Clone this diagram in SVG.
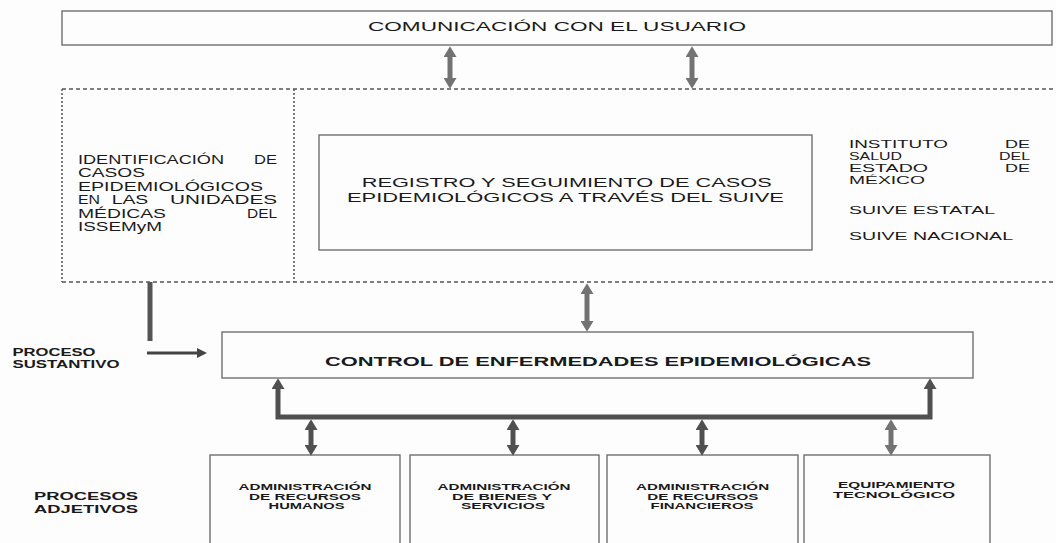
<svg xmlns="http://www.w3.org/2000/svg" width="1056" height="543" viewBox="0 0 1056 543">
<defs>
<style>
text{font-family:"Liberation Sans",Arial,sans-serif;fill:#1a1a1a}
.box{fill:none;stroke:#666;stroke-width:1.3}
.dash{fill:none;stroke:#555;stroke-width:1.3;stroke-dasharray:4 3}
.dot{fill:none;stroke:#555;stroke-width:1.5;stroke-dasharray:2 2}
.reg{font-size:12.5px}
.rt{font-size:11.5px}
.b{font-weight:bold}
.sm{font-size:9px;font-weight:bold}
.lbl{font-size:10.5px;font-weight:bold}
.arr{fill:none;stroke:#737373;stroke-width:5}
.arrd{fill:none;stroke:#505050;stroke-width:5}
</style>
<marker id="hg" viewBox="0 0 10 12" refX="0" refY="6" markerWidth="11" markerHeight="13" markerUnits="userSpaceOnUse" orient="auto-start-reverse"><path d="M0,0 L10,6 L0,12 z" fill="#737373"/></marker>
<marker id="hd" viewBox="0 0 10 12" refX="0" refY="6" markerWidth="11" markerHeight="13" markerUnits="userSpaceOnUse" orient="auto-start-reverse"><path d="M0,0 L10,6 L0,12 z" fill="#505050"/></marker>
<marker id="hs" viewBox="0 0 10 10" refX="0" refY="5" markerWidth="10" markerHeight="10" markerUnits="userSpaceOnUse" orient="auto"><path d="M0,0 L10,5 L0,10 z" fill="#444"/></marker>
</defs>
<rect width="1056" height="543" fill="#fdfdfd"/>

<g id="n-comunicacion">
<rect class="box" x="62" y="11" width="990" height="34"/>
<text x="557" y="31" font-size="13" text-anchor="middle" textLength="378" lengthAdjust="spacingAndGlyphs">COMUNICACIÓN CON EL USUARIO</text>
</g>

<g id="n-region">
<path class="dash" d="M62,89 H1056 M62,282 H1056"/>
<path class="dot" d="M62,89 V282 M294,89 V282"/>
</g>

<g id="n-identificacion" class="reg">
<text y="164"><tspan x="78" textLength="146" lengthAdjust="spacingAndGlyphs">IDENTIFICACIÓN</tspan><tspan x="254" textLength="23" lengthAdjust="spacingAndGlyphs">DE</tspan></text>
<text x="78" y="177.4" textLength="67" lengthAdjust="spacingAndGlyphs">CASOS</text>
<text x="78" y="190.8" textLength="185" lengthAdjust="spacingAndGlyphs">EPIDEMIOLÓGICOS</text>
<text y="204.2"><tspan x="78" textLength="22" lengthAdjust="spacingAndGlyphs">EN</tspan><tspan x="111.7" textLength="36.6" lengthAdjust="spacingAndGlyphs">LAS</tspan><tspan x="170" textLength="107" lengthAdjust="spacingAndGlyphs">UNIDADES</tspan></text>
<text y="217.6"><tspan x="78" textLength="88" lengthAdjust="spacingAndGlyphs">MÉDICAS</tspan><tspan x="247" textLength="30" lengthAdjust="spacingAndGlyphs">DEL</tspan></text>
<text x="78" y="231" textLength="84" lengthAdjust="spacingAndGlyphs">ISSEMyM</text>
</g>

<g id="n-registro">
<rect class="box" x="319" y="135" width="493" height="115"/>
<text class="reg" x="566.7" y="187.3" text-anchor="middle" textLength="410" lengthAdjust="spacingAndGlyphs">REGISTRO Y SEGUIMIENTO DE CASOS</text>
<text class="reg" x="565.4" y="202" text-anchor="middle" textLength="437" lengthAdjust="spacingAndGlyphs">EPIDEMIOLÓGICOS A TRAVÉS DEL SUIVE</text>
</g>

<g id="n-instituto" class="rt">
<text y="147.5"><tspan x="849" textLength="99" lengthAdjust="spacingAndGlyphs">INSTITUTO</tspan><tspan x="1005" textLength="25" lengthAdjust="spacingAndGlyphs">DE</tspan></text>
<text y="159.5"><tspan x="849" textLength="53" lengthAdjust="spacingAndGlyphs">SALUD</tspan><tspan x="999" textLength="31" lengthAdjust="spacingAndGlyphs">DEL</tspan></text>
<text y="171.7"><tspan x="849" textLength="79" lengthAdjust="spacingAndGlyphs">ESTADO</tspan><tspan x="1005" textLength="25" lengthAdjust="spacingAndGlyphs">DE</tspan></text>
<text x="849" y="184" textLength="76" lengthAdjust="spacingAndGlyphs">MÉXICO</text>
<text x="849" y="213.6" textLength="146" lengthAdjust="spacingAndGlyphs">SUIVE ESTATAL</text>
<text x="849" y="239.6" textLength="164" lengthAdjust="spacingAndGlyphs">SUIVE NACIONAL</text>
</g>

<g id="n-proceso-sustantivo" class="lbl">
<text x="12.5" y="356" textLength="83" lengthAdjust="spacingAndGlyphs">PROCESO</text>
<text x="12.5" y="368" textLength="107" lengthAdjust="spacingAndGlyphs">SUSTANTIVO</text>
</g>

<g id="n-control">
<rect class="box" x="222" y="332" width="751" height="46"/>
<text class="b" x="598" y="366" font-size="13.5" text-anchor="middle" textLength="546" lengthAdjust="spacingAndGlyphs">CONTROL DE ENFERMEDADES EPIDEMIOLÓGICAS</text>
</g>

<g id="n-procesos-adjetivos" class="lbl">
<text x="34" y="500" textLength="104" lengthAdjust="spacingAndGlyphs">PROCESOS</text>
<text x="34" y="513" textLength="104" lengthAdjust="spacingAndGlyphs">ADJETIVOS</text>
</g>

<g id="n-admin-rh">
<rect class="box" x="210" y="455" width="190" height="100"/>
<text class="sm" x="305" y="490" text-anchor="middle" textLength="133" lengthAdjust="spacingAndGlyphs">ADMINISTRACIÓN</text>
<text class="sm" x="305" y="499.5" text-anchor="middle" textLength="112" lengthAdjust="spacingAndGlyphs">DE RECURSOS</text>
<text class="sm" x="306.6" y="509" text-anchor="middle" textLength="76" lengthAdjust="spacingAndGlyphs">HUMANOS</text>
</g>

<g id="n-admin-bs">
<rect class="box" x="410" y="455" width="189" height="100"/>
<text class="sm" x="504" y="490" text-anchor="middle" textLength="133" lengthAdjust="spacingAndGlyphs">ADMINISTRACIÓN</text>
<text class="sm" x="502" y="499.5" text-anchor="middle" textLength="100" lengthAdjust="spacingAndGlyphs">DE BIENES Y</text>
<text class="sm" x="503" y="509" text-anchor="middle" textLength="84" lengthAdjust="spacingAndGlyphs">SERVICIOS</text>
</g>

<g id="n-admin-rf">
<rect class="box" x="607" y="455" width="191" height="100"/>
<text class="sm" x="702.6" y="490" text-anchor="middle" textLength="133" lengthAdjust="spacingAndGlyphs">ADMINISTRACIÓN</text>
<text class="sm" x="702.8" y="499.5" text-anchor="middle" textLength="111" lengthAdjust="spacingAndGlyphs">DE RECURSOS</text>
<text class="sm" x="702" y="509" text-anchor="middle" textLength="103" lengthAdjust="spacingAndGlyphs">FINANCIEROS</text>
</g>

<g id="n-equipamiento">
<rect class="box" x="804" y="455" width="186" height="100"/>
<text class="sm" x="896.5" y="488" text-anchor="middle" textLength="117" lengthAdjust="spacingAndGlyphs">EQUIPAMIENTO</text>
<text class="sm" x="894" y="498" text-anchor="middle" textLength="122" lengthAdjust="spacingAndGlyphs">TECNOLÓGICO</text>
</g>

<g id="connectors">
<line class="arr" x1="450" y1="57" x2="450" y2="78" marker-start="url(#hg)" marker-end="url(#hg)"/>
<line class="arr" x1="692" y1="57" x2="692" y2="78" marker-start="url(#hg)" marker-end="url(#hg)"/>
<line class="arr" x1="587" y1="294" x2="587" y2="321" marker-start="url(#hg)" marker-end="url(#hg)"/>
<line x1="150" y1="282" x2="150" y2="341" stroke="#555" stroke-width="5"/>
<line x1="147" y1="353" x2="197" y2="353" stroke="#444" stroke-width="3" marker-end="url(#hs)"/>
<path class="arrd" d="M278,389 V417 H930 V389" marker-start="url(#hd)" marker-end="url(#hd)"/>
<line class="arrd" x1="311" y1="430" x2="311" y2="445" marker-start="url(#hd)" marker-end="url(#hd)"/>
<line class="arrd" x1="513" y1="430" x2="513" y2="445" marker-start="url(#hd)" marker-end="url(#hd)"/>
<line class="arrd" x1="702" y1="430" x2="702" y2="445" marker-start="url(#hd)" marker-end="url(#hd)"/>
<line class="arr" x1="891" y1="430" x2="891" y2="445" marker-start="url(#hg)" marker-end="url(#hg)"/>
</g>
</svg>
